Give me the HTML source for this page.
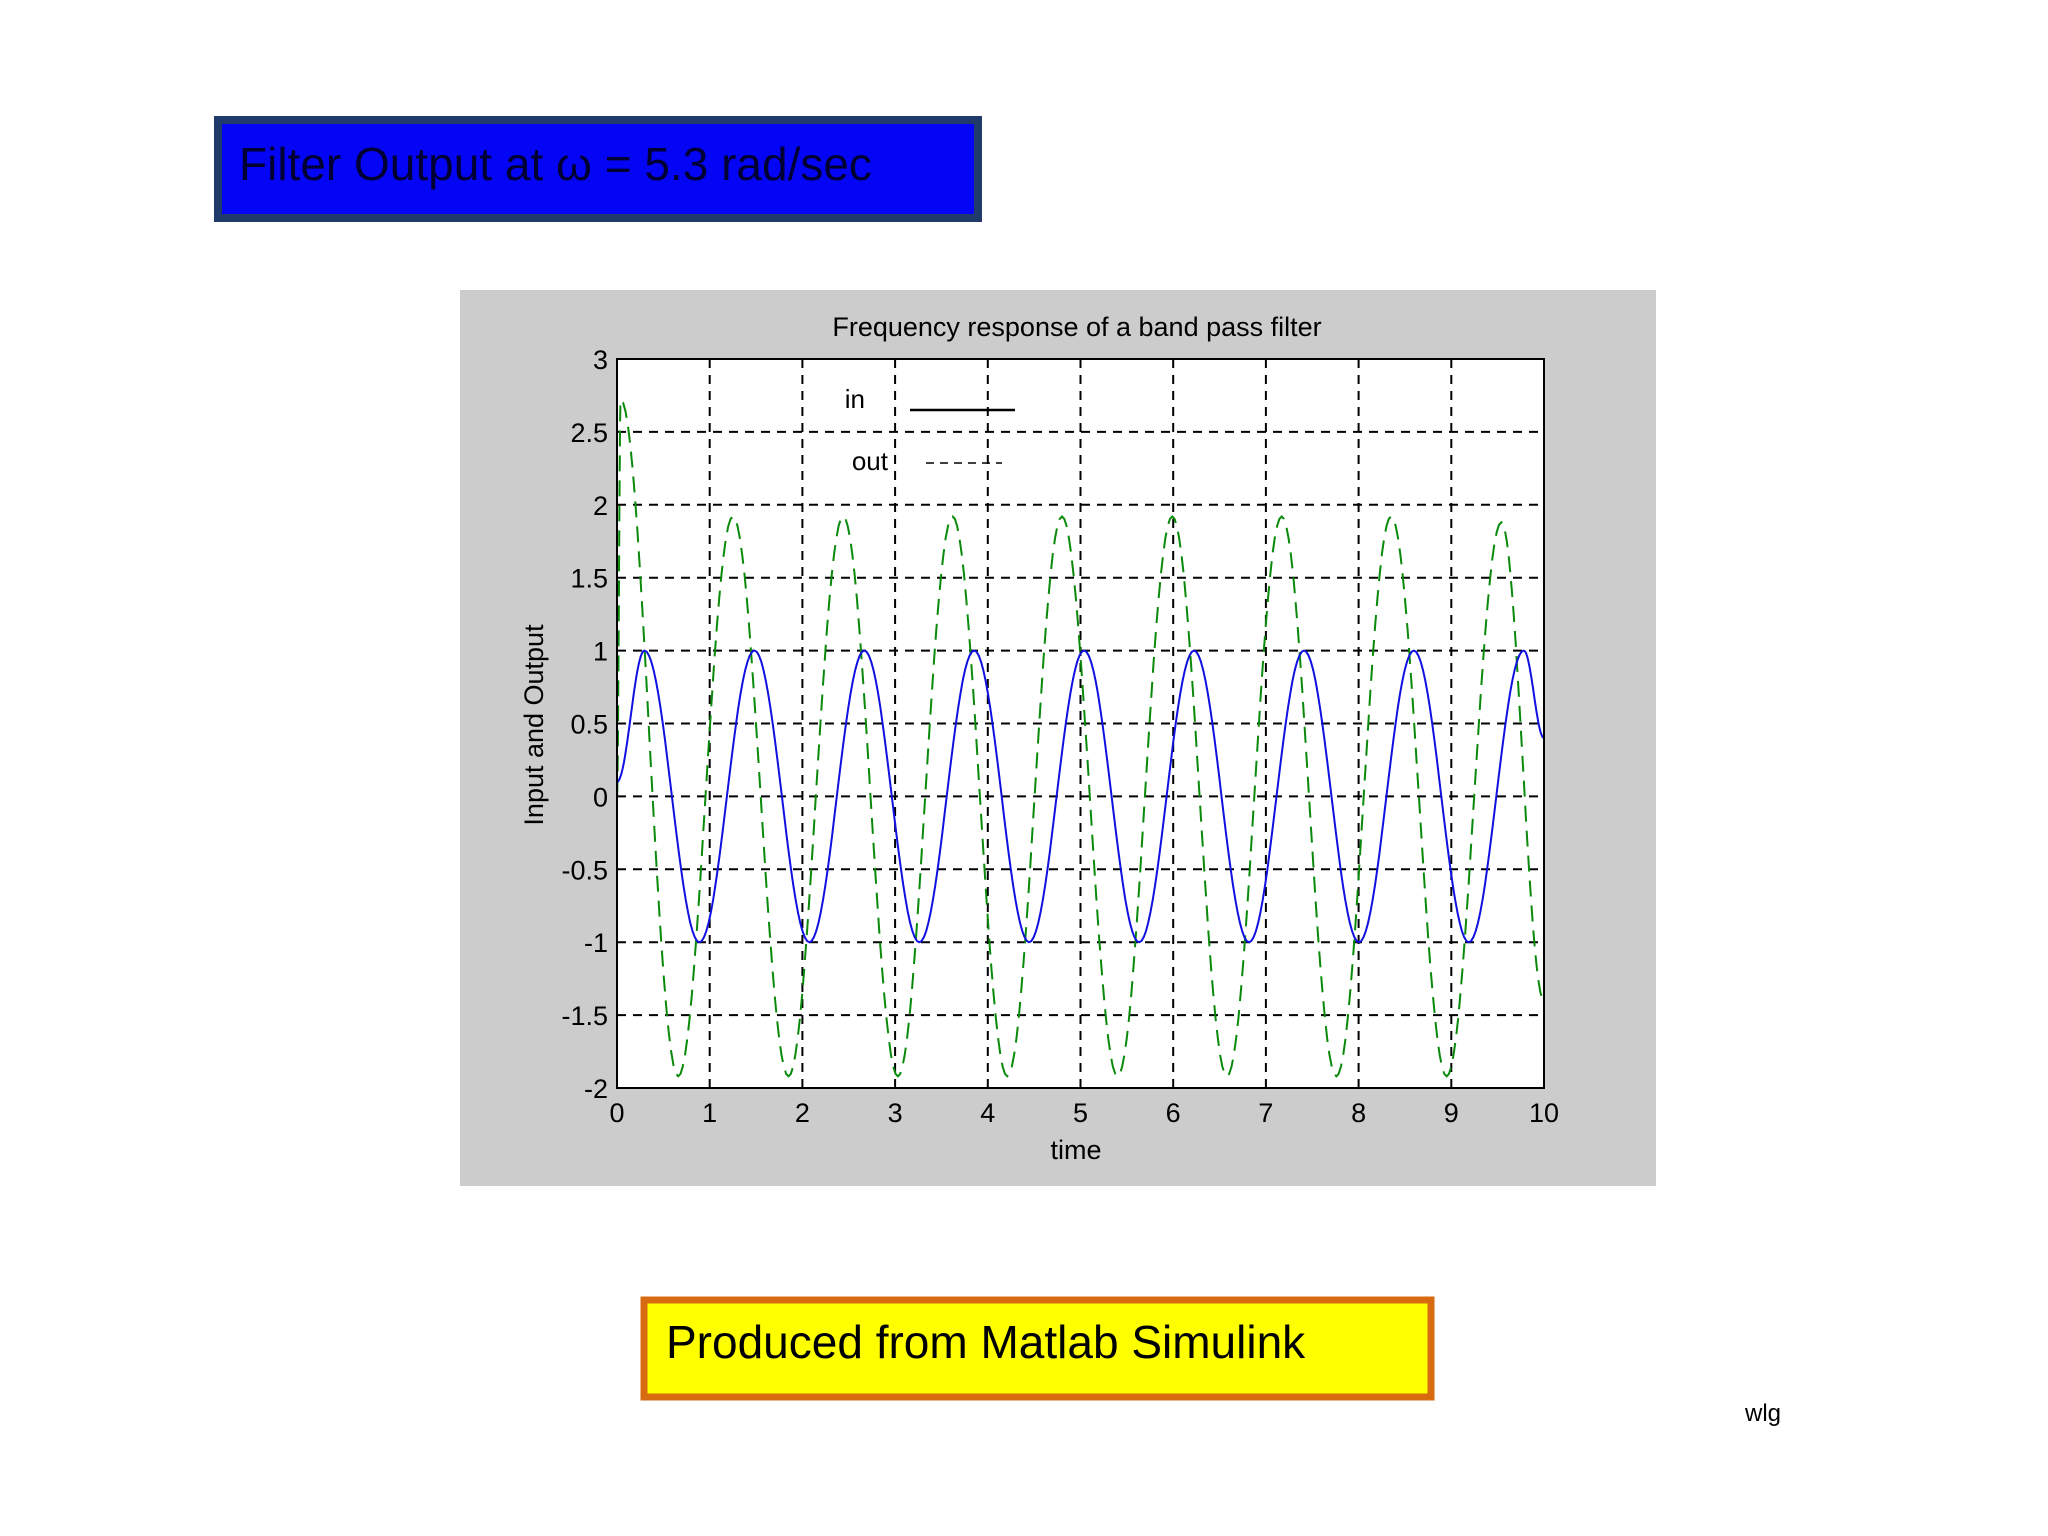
<!DOCTYPE html>
<html><head><meta charset="utf-8"><style>
html,body{margin:0;padding:0;background:#fff;width:2048px;height:1536px;overflow:hidden}
svg{display:block}
</style></head><body>
<svg id="root" width="2048" height="1536" viewBox="0 0 2048 1536" xmlns="http://www.w3.org/2000/svg">
  <rect x="218" y="120" width="760" height="98" fill="#0505f5" stroke="#1f3a6b" stroke-width="8"/>
  <text x="239" y="180" font-family="'Liberation Sans Narrow','Liberation Sans',sans-serif" font-size="46" fill="#000033">Filter Output at ω = 5.3 rad/sec</text>

  <rect x="460" y="290" width="1196" height="896" fill="#cccccc"/>
  <rect x="617" y="359" width="927" height="729" fill="#ffffff"/>
  <g id="grid"></g>
  <g id="series"></g>
  <rect x="617" y="359" width="927" height="729" fill="none" stroke="#000" stroke-width="2"/>
  <g id="ticks" font-family="'Liberation Sans Narrow','Liberation Sans',sans-serif" font-size="27" fill="#000"></g>
  <text x="1077" y="336" text-anchor="middle" font-family="'Liberation Sans Narrow','Liberation Sans',sans-serif" font-size="27">Frequency response of a band pass filter</text>
  <text x="1076" y="1159" text-anchor="middle" font-family="'Liberation Sans Narrow','Liberation Sans',sans-serif" font-size="27">time</text>
  <text transform="translate(543,725) rotate(-90)" text-anchor="middle" font-family="'Liberation Sans Narrow','Liberation Sans',sans-serif" font-size="27">Input and Output</text>

  <g font-family="'Liberation Sans Narrow','Liberation Sans',sans-serif" font-size="26">
    <text x="865" y="408" text-anchor="end">in</text>
    <line x1="910" y1="410" x2="1015" y2="410" stroke="#000" stroke-width="2.5"/>
    <text x="888" y="470" text-anchor="end">out</text>
    <line x1="926" y1="463" x2="1002" y2="463" stroke="#000" stroke-width="1.5" stroke-dasharray="8,6"/>
  </g>

  <rect x="644" y="1300" width="787" height="97" fill="#ffff00" stroke="#d86a10" stroke-width="7"/>
  <text x="666" y="1358" font-family="'Liberation Sans Narrow','Liberation Sans',sans-serif" font-size="46" fill="#000">Produced from Matlab Simulink</text>
  <text x="1745" y="1421" font-family="'Liberation Sans',sans-serif" font-size="24" fill="#000">wlg</text>
</svg>
<script>
const xTicks = [0,1,2,3,4,5,6,7,8,9,10];
const yTicks = [-2,-1.5,-1,-0.5,0,0.5,1,1.5,2,2.5,3];
const yTickLabels = ["-2","-1.5","-1","-0.5","0","0.5","1","1.5","2","2.5","3"];
// input series extrema (time, value)
const inTimes = [0,0.296,0.889,1.482,2.075,2.668,3.261,3.853,4.446,5.039,5.632,6.225,6.818,7.411,8.004,8.596,9.189,9.782,10];
const inValues = [0.1,1,-1,1,-1,1,-1,1,-1,1,-1,1,-1,1,-1,1,-1,1,0.4];
// output series extrema (time, value)
const outTimes = [0,0.04,0.66,1.25,1.85,2.44,3.03,3.62,4.21,4.80,5.40,5.99,6.58,7.17,7.76,8.35,8.95,9.54,10];
const outValues = [0,2.72,-1.92,1.92,-1.92,1.92,-1.92,1.92,-1.92,1.92,-1.92,1.92,-1.92,1.92,-1.92,1.92,-1.92,1.88,-1.4];

const X0=617, X1=1544, Y0=1088, Y1=359;
const xs = t => X0 + (t-0)/(10-0)*(X1-X0);
const ys = v => Y0 - (v+2)/(3+2)*(Y0-Y1);
const NS='http://www.w3.org/2000/svg';
const grid=document.getElementById('grid'), ticks=document.getElementById('ticks'), series=document.getElementById('series');

xTicks.forEach((t,i)=>{
  if(i>0 && i<xTicks.length-1){
    const l=document.createElementNS(NS,'line');
    
    
    l.setAttribute('x1',xs(t));l.setAttribute('x2',xs(t));l.setAttribute('y1',Y1);l.setAttribute('y2',Y0);
    l.setAttribute('stroke','#000');l.setAttribute('stroke-width','2');l.setAttribute('stroke-dasharray','9,7');
    grid.appendChild(l);
  }
  const tx=document.createElementNS(NS,'text');
  
  
  tx.setAttribute('x',xs(t));tx.setAttribute('y',1122);tx.setAttribute('text-anchor','middle');
  tx.textContent=String(t);ticks.appendChild(tx);
});
yTicks.forEach((v,i)=>{
  if(i>0 && i<yTicks.length-1){
    const l=document.createElementNS(NS,'line');
    
    
    l.setAttribute('x1',X0);l.setAttribute('x2',X1);l.setAttribute('y1',ys(v));l.setAttribute('y2',ys(v));
    l.setAttribute('stroke','#000');l.setAttribute('stroke-width','2');l.setAttribute('stroke-dasharray','9,7');
    grid.appendChild(l);
  }
  const tx=document.createElementNS(NS,'text');
  
  
  tx.setAttribute('x',608);tx.setAttribute('y',ys(v)+10);tx.setAttribute('text-anchor','end');
  tx.textContent=yTickLabels[i];ticks.appendChild(tx);
});

function buildPath(T,V){
  let d='M'+xs(T[0]).toFixed(1)+','+ys(V[0]).toFixed(1);
  for(let i=0;i<T.length-1;i++){
    const n=24;
    for(let k=1;k<=n;k++){
      const u=k/n, t=T[i]+(T[i+1]-T[i])*u;
      const v=V[i]+(V[i+1]-V[i])*(1-Math.cos(Math.PI*u))/2;
      d+=' L'+xs(t).toFixed(1)+','+ys(v).toFixed(1);
    }
  }
  return d;
}
const pOut=document.createElementNS(NS,'path');


pOut.setAttribute('d',buildPath(outTimes,outValues));
pOut.setAttribute('fill','none');pOut.setAttribute('stroke','#0a8a0a');pOut.setAttribute('stroke-width','2');pOut.setAttribute('stroke-dasharray','16,9');
series.appendChild(pOut);
const pIn=document.createElementNS(NS,'path');


pIn.setAttribute('d',buildPath(inTimes,inValues));
pIn.setAttribute('fill','none');pIn.setAttribute('stroke','#1010e0');pIn.setAttribute('stroke-width','2');
series.appendChild(pIn);
</script>
</body></html>
